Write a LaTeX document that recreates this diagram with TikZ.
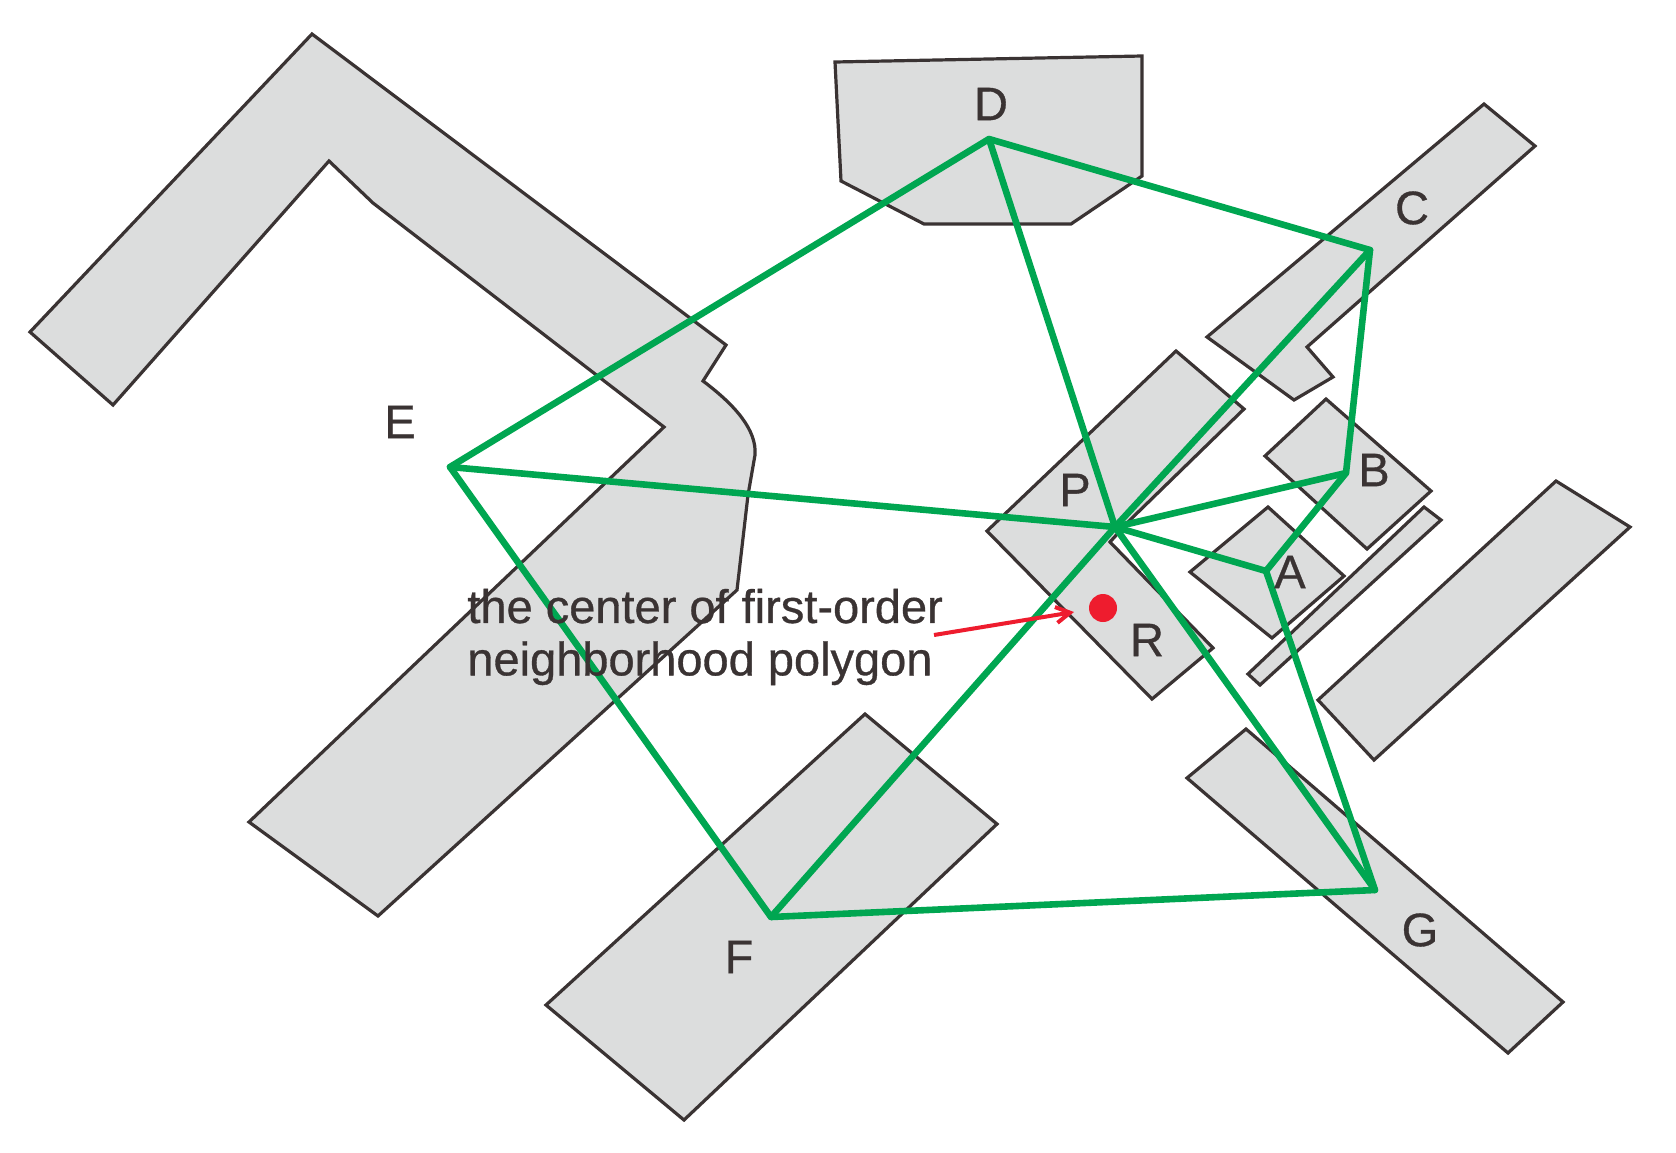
\documentclass[tikz,border=0pt]{standalone}
\usepackage{fontspec}
\setmainfont{Liberation Sans}
\newfontface\labfont{Liberation Sans}[FakeBold=0.7]
\usetikzlibrary{arrows.meta}
\definecolor{edgeC}{HTML}{3A3333}
\definecolor{fillC}{HTML}{DCDDDD}
\definecolor{greenC}{HTML}{00A651}
\definecolor{redC}{HTML}{EE1C2E}
\tikzset{
  parcel/.style={draw=edgeC,fill=fillC,line width=1.6pt,line join=miter},
  link/.style={draw=greenC,line width=3.3pt,line join=round,line cap=round},
  vertex/.style={inner sep=0pt,minimum size=0pt},
  lab/.style={text=edgeC,font=\labfont\fontsize{23.5}{26.2}\selectfont,inner sep=0pt},
  pointer/.style={draw=redC,line width=2pt,-{Straight Barb[length=7pt,width=8pt]}},
  centre/.style={circle,fill=redC,minimum size=14pt,inner sep=0pt}
}
\begin{document}
\begin{tikzpicture}[x=0.5pt,y=-0.5pt]
\useasboundingbox (0,0) rectangle (1676,1152);
% parcels
\path[parcel] (312,34) -- (726,345) -- (703,381) .. controls (735,405) and (757,430) .. (755,455) -- (748,495) -- (737,590) -- (378,916) -- (249,822) -- (664,427) -- (373,203) -- (329,161) -- (113,405) -- (30,332) -- cycle;
\path[parcel] (835,62) -- (1142,56) -- (1142,176) -- (1071,224) -- (924,224) -- (841,181) -- cycle;
\path[parcel] (1484,104) -- (1535,146) -- (1307,347) -- (1333,377) -- (1294,400) -- (1207,337) -- cycle;
\path[parcel] (1176,351) -- (1244,409) -- (1130,520) -- (1110,542) -- (1213,648) -- (1152,699) -- (987,531) -- cycle;
\path[parcel] (1326,399) -- (1431,491) -- (1367,549) -- (1265,456) -- cycle;
\path[parcel] (1268,507) -- (1344,576) -- (1272,638) -- (1190,572) -- cycle;
\path[parcel] (1424,507) -- (1441,520) -- (1260,685) -- (1248,674) -- cycle;
\path[parcel] (1556,481) -- (1630,527) -- (1374,760) -- (1318,700) -- cycle;
\path[parcel] (1246,729) -- (1563,1002) -- (1508,1053) -- (1187,778) -- cycle;
\path[parcel] (865,714) -- (997,824) -- (684,1120) -- (546,1005) -- cycle;
% vertices
\node[vertex] (vD) at (989,139) {};
\node[vertex] (vC) at (1370,250) {};
\node[vertex] (vP) at (1115,527) {};
\node[vertex] (vB) at (1346,473) {};
\node[vertex] (vA) at (1266,571) {};
\node[vertex] (vG) at (1375,890) {};
\node[vertex] (vF) at (771,917) {};
\node[vertex] (vE) at (450,467) {};
% links
\draw[link] (vE.center) -- (vD.center) -- (vC.center) -- (vB.center) -- (vA.center) -- (vG.center) -- (vF.center) -- (vE.center);
\foreach \v in {vD,vC,vB,vA,vG,vF,vE} \draw[link] (vP.center) -- (\v.center);
% labels
\node[lab] (tD) at (991,104) {D};
\node[lab] (tC) at (1412,208) {C};
\node[lab] (tE) at (400,422) {E};
\node[lab] (tP) at (1075,490) {P};
\node[lab] (tB) at (1374,470) {B};
\node[lab] (tA) at (1290,572) {A};
\node[lab] (tR) at (1147,640) {R};
\node[lab] (tF) at (739,957) {F};
\node[lab] (tG) at (1420,930) {G};
\node[lab,anchor=west,align=left] (caption) at (467,637) {the center of first-order\\neighborhood polygon};
% centre and pointer
\node[centre] (dot) at (1103,608) {};
\coordinate (ptail) at (934,635);
\coordinate (phead) at (1074,612);
\draw[pointer] (ptail) -- (phead);
\end{tikzpicture}
\end{document}
